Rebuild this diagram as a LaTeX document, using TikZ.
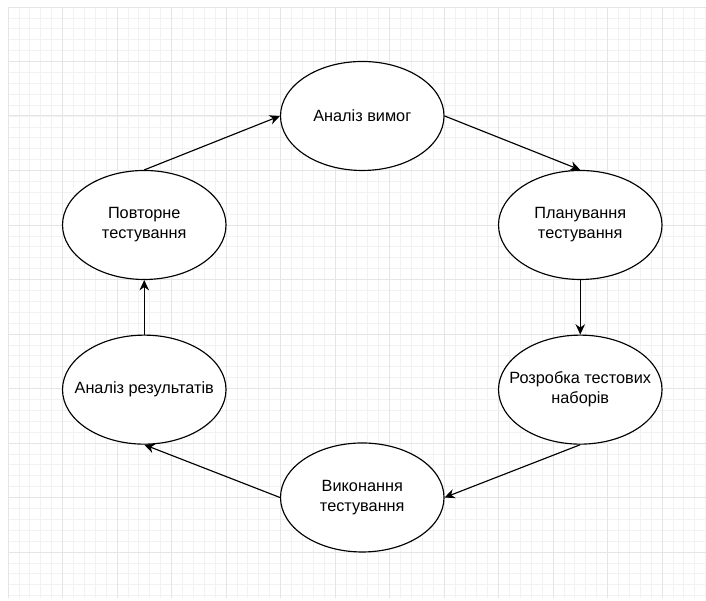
\documentclass[tikz,border=0pt]{standalone}
\usepackage{fontspec}
\setmainfont{Liberation Sans}
\usetikzlibrary{positioning,arrows.meta,shapes.geometric}

\begin{document}
\begin{tikzpicture}[
  >={Stealth[length=5.4pt, width=5pt]},
  stage/.style={ellipse, draw=black, fill=white, line width=0.6pt, minimum width=3cm, minimum height=2cm, inner xsep=-3mm, inner ysep=0pt, align=center, font=\fontsize{8.5}{10.4}\selectfont},
  flow/.style={->, line width=0.6pt},
  minorgrid/.style={draw=black!5, line width=0.4pt},
  majorgrid/.style={draw=black!10, line width=0.5pt},
  node distance=1cm
]

% page and grid
\useasboundingbox[fill=white] (-0.147,0.119) rectangle (12.807,11.128);
\draw[minorgrid] (0,0.15) grid[step=0.2] (12.807,11);
\draw[majorgrid] (0,0.15) grid[step=1] (12.807,11);

\node[stage] (req) at (6.5,9) {Аналіз вимог};
\node[stage] (plan) at (10.5,7) {Планування\\тестування};
\node[stage, below=of plan] (dev) {Розробка тестових\\наборів};
\node[stage] (exec) at (6.5,2) {Виконання\\тестування};
\node[stage] (retest) at (2.5,7) {Повторне\\тестування};
\node[stage, below=of retest] (res) {Аналіз результатів};

% cycle
\draw[flow] (req.east) -- (plan.north);
\draw[flow] (plan.south) -- (dev.north);
\draw[flow] (dev.south) -- (exec.east);
\draw[flow] (exec.west) -- (res.south);
\draw[flow] (res.north) -- (retest.south);
\draw[flow] (retest.north) -- (req.west);

\end{tikzpicture}
\end{document}
